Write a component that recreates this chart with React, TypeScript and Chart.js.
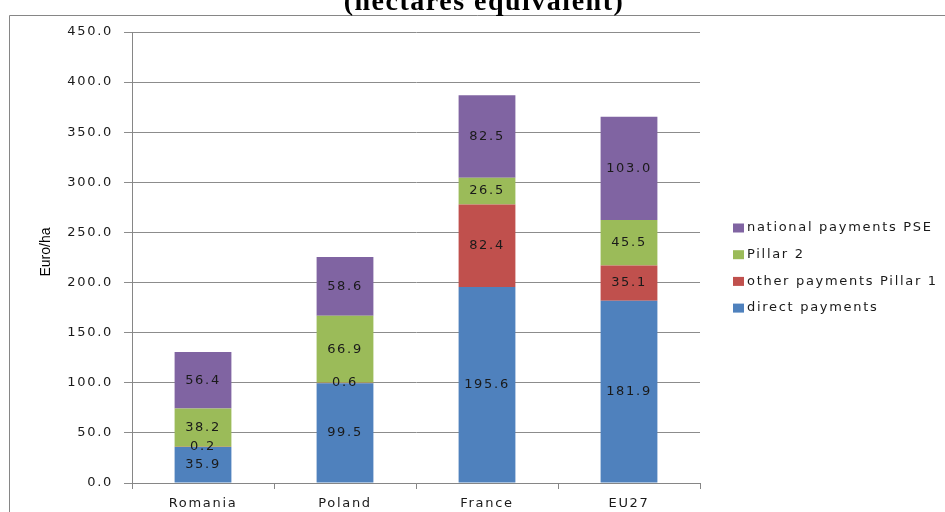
import React, { useEffect, useRef } from "react";
import { Chart, registerables } from "chart.js";

Chart.register(...registerables);

const categories = ["Romania", "Poland", "France", "EU27"];
const directPayments = [35.9, 99.5, 195.6, 181.9];
const otherPillar1 = [0.2, 0.6, 82.4, 35.1];
const pillar2 = [38.2, 66.9, 26.5, 45.5];
const nationalPSE = [56.4, 58.6, 82.5, 103.0];
const seriesNames = ["direct payments", "other payments Pillar 1", "Pillar 2", "national payments PSE"];
const seriesColors = ["#4F81BD", "#C0504D", "#9BBB59", "#8064A2"];
const titleText = "(hectares equivalent)";
const yTitle = "Euro/ha";
const yMin = 0;
const yMax = 450;
const yStep = 50;

const SPACING = "1.7px";
const FONT_FAMILY = '"DejaVu Sans", Verdana, sans-serif';

const spacingPlugin = {
  id: "spacing",
  beforeUpdate(chart: any) {
    chart.ctx.letterSpacing = SPACING;
  },
  beforeDraw(chart: any) {
    const ctx = chart.ctx;
    ctx.letterSpacing = SPACING;
    // frame
    ctx.save();
    ctx.strokeStyle = "#868686";
    ctx.lineWidth = 1;
    ctx.beginPath();
    ctx.moveTo(9.5, 520);
    ctx.lineTo(9.5, 15.5);
    ctx.lineTo(960, 15.5);
    ctx.stroke();
    ctx.restore();
  },
};

const labelsPlugin = {
  id: "barLabels",
  afterDatasetsDraw(chart: any) {
    const ctx = chart.ctx;
    ctx.save();
    ctx.letterSpacing = SPACING;
    ctx.font = `13px ${FONT_FAMILY}`;
    ctx.fillStyle = "#1a1a1a";
    ctx.textAlign = "center";
    ctx.textBaseline = "middle";
    chart.data.datasets.forEach((ds: any, i: number) => {
      const meta = chart.getDatasetMeta(i);
      meta.data.forEach((el: any, j: number) => {
        const p = el.getCenterPoint();
        ctx.fillText(Number(ds.data[j]).toFixed(1), p.x, p.y);
      });
    });
    ctx.restore();
  },
  afterDraw(chart: any) {
    const ctx = chart.ctx;
    // title
    ctx.save();
    ctx.letterSpacing = "1.5px";
    ctx.font = 'bold 28px "Liberation Serif", "Times New Roman", serif';
    ctx.fillStyle = "#000";
    ctx.textAlign = "center";
    ctx.textBaseline = "alphabetic";
    ctx.fillText(titleText, 484, 10);
    ctx.restore();

    // y title
    ctx.save();
    ctx.letterSpacing = "0px";
    ctx.font = '14px "Liberation Sans Narrow", "Liberation Sans", Arial, sans-serif';
    ctx.fillStyle = "#000";
    ctx.textAlign = "center";
    ctx.textBaseline = "middle";
    ctx.translate(46.5, 252);
    ctx.rotate(-Math.PI / 2);
    ctx.fillText(yTitle, 0, 0);
    ctx.restore();

    // legend (reversed order)
    ctx.save();
    ctx.letterSpacing = SPACING;
    ctx.font = `13px ${FONT_FAMILY}`;
    ctx.textAlign = "left";
    ctx.textBaseline = "middle";
    const n = chart.data.datasets.length;
    for (let k = 0; k < n; k++) {
      const ds = chart.data.datasets[n - 1 - k];
      const cy = 228 + k * 26.7;
      ctx.fillStyle = ds.backgroundColor;
      ctx.fillRect(733, cy - 4.5, 11, 9);
      ctx.fillStyle = "#1a1a1a";
      ctx.fillText(ds.label, 747, cy);
    }
    ctx.restore();
  },
};

export default function App() {
  const ref = useRef<HTMLCanvasElement | null>(null);
  useEffect(() => {
    if (!ref.current) return;
    const data = [directPayments, otherPillar1, pillar2, nationalPSE];
    const chart = new Chart(ref.current, {
      type: "bar",
      data: {
        labels: categories,
        datasets: data.map((d, i) => ({
          label: seriesNames[i],
          data: d,
          backgroundColor: seriesColors[i],
          borderWidth: 0,
          categoryPercentage: 1,
          barPercentage: 0.4,
        })),
      },
      options: {
        responsive: false,
        animation: false,
        devicePixelRatio: 1,
        layout: { padding: { left: 9, right: 245, top: 32, bottom: 0 } },
        plugins: {
          legend: { display: false },
          title: { display: false },
          tooltip: { enabled: false },
        },
        scales: {
          x: {
            stacked: true,
            grid: { drawOnChartArea: false, drawTicks: true, tickLength: 6, color: "#868686" },
            border: { display: true, color: "#868686" },
            ticks: { color: "#1a1a1a", font: { family: FONT_FAMILY, size: 13 }, padding: 7 },
            afterFit: (s: any) => {
              s.height = 29;
            },
          },
          y: {
            stacked: true,
            min: yMin,
            max: yMax,
            grid: { color: "#8c8c8c", tickLength: 8, drawTicks: true },
            border: { display: true, color: "#868686" },
            ticks: {
              stepSize: yStep,
              color: "#1a1a1a",
              font: { family: FONT_FAMILY, size: 13 },
              padding: 11,
              callback: (v: any) => Number(v).toFixed(1),
            },
            afterFit: (s: any) => {
              s.width = 123;
            },
          },
        },
      },
      plugins: [spacingPlugin, labelsPlugin],
    });
    return () => chart.destroy();
  }, []);
  return (
    <div style={{ position: "absolute", left: 0, top: 0, width: 945, height: 512, background: "#fff" }}>
      <canvas ref={ref} width={945} height={512} style={{ display: "block", width: 945, height: 512 }} />
    </div>
  );
}
